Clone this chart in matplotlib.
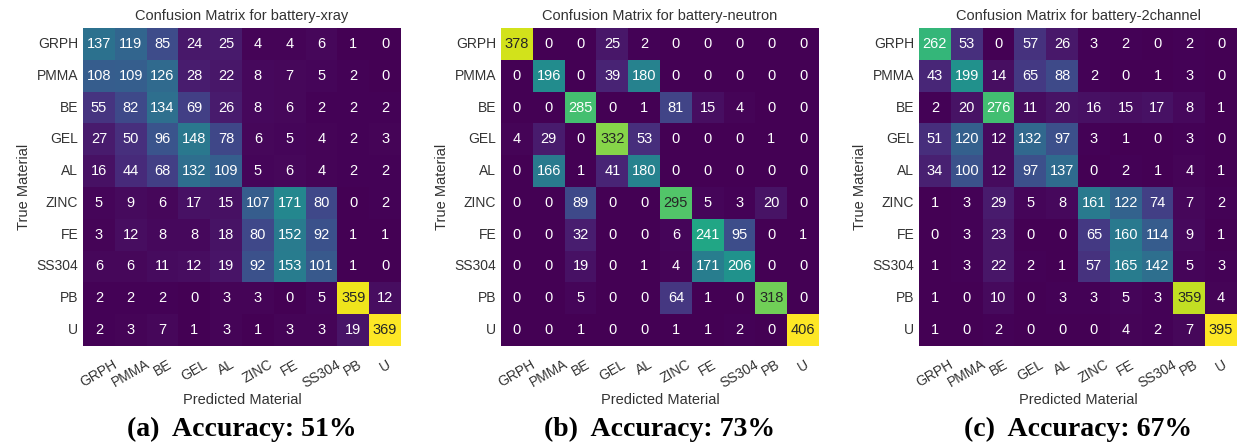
import numpy as np
import matplotlib
matplotlib.use("Agg")
import matplotlib.pyplot as plt
import seaborn as sns

plt.rcParams["font.family"] = ["Liberation Sans", "DejaVu Sans"]

LABELS = ["GRPH", "PMMA", "BE", "GEL", "AL", "ZINC", "FE", "SS304", "PB", "U"]

xray = [
    [137, 119, 85, 24, 25, 4, 4, 6, 1, 0],
    [108, 109, 126, 28, 22, 8, 7, 5, 2, 0],
    [55, 82, 134, 69, 26, 8, 6, 2, 2, 2],
    [27, 50, 96, 148, 78, 6, 5, 4, 2, 3],
    [16, 44, 68, 132, 109, 5, 6, 4, 2, 2],
    [5, 9, 6, 17, 15, 107, 171, 80, 0, 2],
    [3, 12, 8, 8, 18, 80, 152, 92, 1, 1],
    [6, 6, 11, 12, 19, 92, 153, 101, 1, 0],
    [2, 2, 2, 0, 3, 3, 0, 5, 359, 12],
    [2, 3, 7, 1, 3, 1, 3, 3, 19, 369],
]

neutron = [
    [378, 0, 0, 25, 2, 0, 0, 0, 0, 0],
    [0, 196, 0, 39, 180, 0, 0, 0, 0, 0],
    [0, 0, 285, 0, 1, 81, 15, 4, 0, 0],
    [4, 29, 0, 332, 53, 0, 0, 0, 1, 0],
    [0, 166, 1, 41, 180, 0, 0, 0, 0, 0],
    [0, 0, 89, 0, 0, 295, 5, 3, 20, 0],
    [0, 0, 32, 0, 0, 6, 241, 95, 0, 1],
    [0, 0, 19, 0, 1, 4, 171, 206, 0, 0],
    [0, 0, 5, 0, 0, 64, 1, 0, 318, 0],
    [0, 0, 1, 0, 0, 1, 1, 2, 0, 406],
]

twochannel = [
    [262, 53, 0, 57, 26, 3, 2, 0, 2, 0],
    [43, 199, 14, 65, 88, 2, 0, 1, 3, 0],
    [2, 20, 276, 11, 20, 16, 15, 17, 8, 1],
    [51, 120, 12, 132, 97, 3, 1, 0, 3, 0],
    [34, 100, 12, 97, 137, 0, 2, 1, 4, 1],
    [1, 3, 29, 5, 8, 161, 122, 74, 7, 2],
    [0, 3, 23, 0, 0, 65, 160, 114, 9, 1],
    [1, 3, 22, 2, 1, 57, 165, 142, 5, 3],
    [1, 0, 10, 0, 3, 3, 5, 3, 359, 4],
    [1, 0, 2, 0, 0, 0, 4, 2, 7, 395],
]

names = ["battery-xray", "battery-neutron", "battery-2channel"]
captions = ["(a)  Accuracy: 51%", "(b)  Accuracy: 73%", "(c)  Accuracy: 67%"]
matrices = [xray, neutron, twochannel]

W, H = 1238, 442
fig = plt.figure(figsize=(W / 100, H / 100), dpi=100)

lefts = [83, 501, 919]
aw, top, bottom = 318, 28, 346
txt = "#333333"

for left, cm, name, cap in zip(lefts, matrices, names, captions):
    ax = fig.add_axes([left / W, 1 - bottom / H, aw / W, (bottom - top) / H])
    sns.heatmap(np.array(cm), annot=True, fmt="d", cmap="viridis", cbar=False,
                xticklabels=LABELS, yticklabels=LABELS, ax=ax,
                annot_kws={"fontsize": 10.5})
    ax.set_title(f"Confusion Matrix for {name}", fontsize=10.5, color=txt, pad=6)
    ax.set_xlabel("Predicted Material", fontsize=10.5, color=txt, labelpad=2)
    ax.set_ylabel("True Material", fontsize=10.5, color=txt)
    ax.tick_params(length=0, labelsize=10, colors=txt)
    ax.tick_params(axis="x", pad=8)
    plt.setp(ax.get_xticklabels(), rotation=30, ha="center")
    plt.setp(ax.get_yticklabels(), rotation=0)
    ax.text(0.5, (bottom - 436) / (bottom - top), cap, transform=ax.transAxes,
            ha="center", va="baseline", fontsize=20, fontweight="bold",
            family=["Liberation Serif", "DejaVu Serif"])

fig.savefig("out.png", dpi=100)
